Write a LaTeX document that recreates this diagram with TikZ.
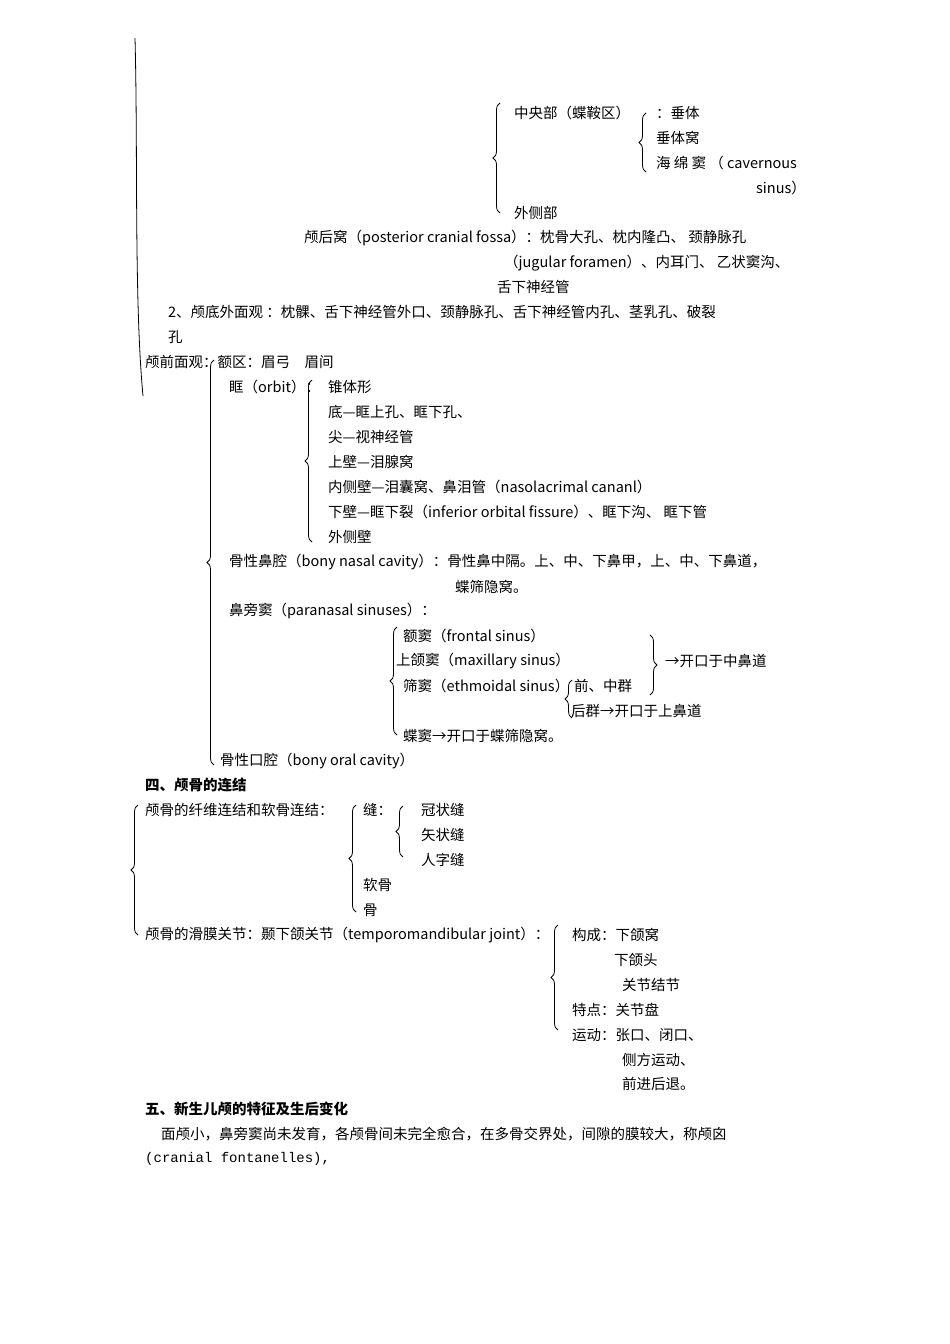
\documentclass[tikz,border=0pt]{standalone}
\usepackage{fontspec}
\setmainfont{Noto Sans CJK SC}
\newfontfamily\monof{Liberation Mono}
\usetikzlibrary{decorations.pathreplacing}
\begin{document}
\begin{tikzpicture}[x=1pt,y=-1pt,
  t/.style={anchor=west,inner sep=0pt,font=\fontsize{14.5}{17}\selectfont},
  b/.style={t,font=\fontsize{14.5}{17}\selectfont\bfseries},
  br/.style={draw,line width=0.8pt,decorate,decoration={brace,amplitude=7pt}}]
\useasboundingbox[fill=white] (0,0) rectangle (950,1344);
\node[t] (a1) at (514,113) {中央部（蝶鞍区）};
\node[t] (a2) at (656,113) {：垂体};
\node[t] (a3) at (656,138) {垂体窝};
\node[t] (a4) at (656,163) {海 绵 窦 （ cavernous};
\node[t] (a5) at (756,188) {sinus）};
\node[t] (a6) at (514,213) {外侧部};
\node[t] (a7) at (304,238) {颅后窝（posterior cranial fossa）：枕骨大孔、枕内隆凸、 颈静脉孔};
\node[t] (a8) at (504,263) {（jugular foramen）、内耳门、 乙状窦沟、};
\node[t] (a9) at (497,287) {舌下神经管};
\node[t] (b1) at (168,312) {2、颅底外面观 ：枕髁、舌下神经管外口、颈静脉孔、舌下神经管内孔、茎乳孔、破裂};
\node[t] (b2) at (168,337) {孔};
\node[t] (c1) at (145,362) {颅前面观：额区：眉弓　眉间};
\node[t] (c2) at (229,387) {眶（orbit）：};
\node[t] (c3) at (328,387) {锥体形};
\node[t] (c4) at (328,412) {底—眶上孔、眶下孔、};
\node[t] (c5) at (328,437) {尖—视神经管};
\node[t] (c6) at (328,462) {上壁—泪腺窝};
\node[t] (c7) at (328,487) {内侧壁—泪囊窝、鼻泪管（nasolacrimal cananl）};
\node[t] (c8) at (328,512) {下壁—眶下裂（inferior orbital fissure）、眶下沟、 眶下管};
\node[t] (c9) at (328,537) {外侧壁};
\node[t] (d1) at (229,562) {骨性鼻腔（bony nasal cavity）：骨性鼻中隔。上、中、下鼻甲，上、中、下鼻道，};
\node[t] (d2) at (455,587) {蝶筛隐窝。};
\node[t] (d3) at (229,611) {鼻旁窦（paranasal sinuses）：};
\node[t] (d4) at (403,636) {额窦（frontal sinus）};
\node[t] (d5) at (396,661) {上颌窦（maxillary sinus）};
\node[t] (d6) at (403,686) {筛窦（ethmoidal sinus）};
\node[t] (d7) at (574,686) {前、中群};
\node[t] (d8) at (571,711) {后群→开口于上鼻道};
\node[t] (d9) at (665,661) {→开口于中鼻道};
\node[t] (d10) at (403,736) {蝶窦→开口于蝶筛隐窝。};
\node[t] (d11) at (220,761) {骨性口腔（bony oral cavity）};
\node[b] (e1) at (145,785) {四、颅骨的连结};
\node[t] (e2) at (145,810) {颅骨的纤维连结和软骨连结：};
\node[t] (e3) at (363,810) {缝：};
\node[t] (e4) at (421,810) {冠状缝};
\node[t] (e5) at (421,835) {矢状缝};
\node[t] (e6) at (421,860) {人字缝};
\node[t] (e7) at (363,885) {软骨};
\node[t] (e8) at (363,910) {骨};
\node[t] (f1) at (145,935) {颅骨的滑膜关节：颞下颌关节（temporomandibular joint）：};
\node[t] (f2) at (572,935) {构成：下颌窝};
\node[t] (f3) at (614,960) {下颌头};
\node[t] (f4) at (622,985) {关节结节};
\node[t] (f5) at (572,1010) {特点：关节盘};
\node[t] (f6) at (572,1035) {运动：张口、闭口、};
\node[t] (f7) at (622,1060) {侧方运动、};
\node[t] (f8) at (622,1084) {前进后退。};
\node[b] (g1) at (145,1109) {五、新生儿颅的特征及生后变化};
\node[t] (g2) at (161,1134) {面颅小，鼻旁窦尚未发育，各颅骨间未完全愈合，在多骨交界处，间隙的膜较大，称颅囟};
\node[t,font=\fontsize{14}{17}\monof] (g3) at (145,1159) {(cranial fontanelles),};
% big left line
\draw[line width=0.8pt] (135,38) .. controls (138,150) and (134,300) .. (143,396);
% braces
\draw[br] (500,213) -- (500,103);
\draw[br] (646,172) -- (646,113);
\draw[br] (214,765) -- (214,360);
\draw[br] (312,542) -- (312,380);
\draw[br] (397,735) -- (397,627);
\draw[br,decoration={brace,amplitude=7pt,mirror}] (650,695) -- (650,635);
\draw[br] (572,718) -- (572,680);
\draw[br] (138,935) -- (138,805);
\draw[br] (356,912) -- (356,805);
\draw[br] (403,857) -- (403,806);
\draw[br] (558,1030) -- (558,925);
\end{tikzpicture}
\end{document}
